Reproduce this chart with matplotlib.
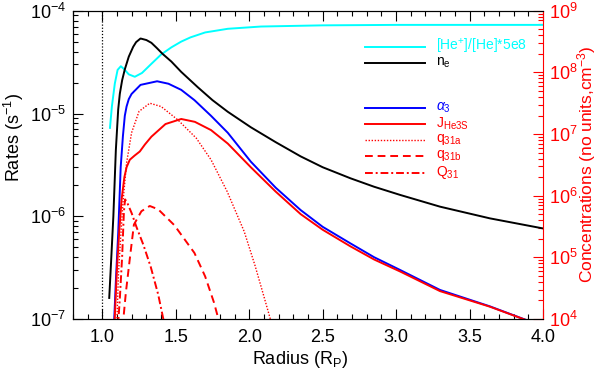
import matplotlib
matplotlib.use("Agg")
import matplotlib.pyplot as plt
from matplotlib.ticker import LogLocator, NullFormatter, MultipleLocator

plt.rcParams['font.family'] = ['Liberation Sans', 'DejaVu Sans']
plt.rcParams['mathtext.fontset'] = 'custom'
plt.rcParams['mathtext.rm'] = 'Liberation Sans'
plt.rcParams['mathtext.it'] = 'Liberation Sans:italic'
plt.rcParams['mathtext.bf'] = 'Liberation Sans:bold'

# ---------------- data ----------------
# electron density n_e (cm^-3), right axis
r_ne = [1.047, 1.060, 1.075, 1.092, 1.108, 1.119, 1.135, 1.153, 1.18, 1.21, 1.23, 1.26, 1.30,
        1.334, 1.37, 1.41, 1.47, 1.537, 1.65, 1.75, 1.854, 2.011, 2.18, 2.35, 2.5, 2.689, 2.85,
        3.028, 3.299, 3.638, 4.0]
ne = [2.2e4, 8.9e4, 4.6e5, 5.5e6, 2.5e7, 4.5e7, 7.5e7, 1.12e8, 1.8e8, 2.6e8, 3.1e8, 3.55e8,
      3.35e8, 3.02e8, 2.5e8, 2.0e8, 1.5e8, 1.02e8, 5.75e7, 3.55e7, 2.3e7, 1.29e7, 7.4e6,
      4.35e6, 2.9e6, 1.92e6, 1.4e6, 1.03e6, 6.65e5, 4.3e5, 2.95e5]

# [He+]/[He]*5e8, right axis
r_he = [1.052, 1.065, 1.085, 1.104, 1.126, 1.15, 1.18, 1.221, 1.27, 1.33, 1.40, 1.47,
        1.537, 1.60, 1.70, 1.854, 2.08, 2.5, 3.0, 4.0]
he_ratio_x5e8 = [1.26e7, 2.8e7, 6.6e7, 1.1e8, 1.26e8, 1.12e8, 9.3e7, 8.5e7, 9.8e7, 1.35e8,
                 1.95e8, 2.55e8, 3.16e8, 3.7e8, 4.45e8, 5.1e8, 5.55e8, 5.8e8, 5.9e8, 5.9e8]

# alpha_3 (s^-1), left axis
r_a3 = [1.075, 1.093, 1.108, 1.125, 1.14, 1.153, 1.165, 1.18, 1.199, 1.26, 1.373, 1.45, 1.537,
        1.627, 1.74, 1.854, 2.011, 2.18, 2.35, 2.5, 2.689, 2.85, 3.028, 3.299, 3.638, 4.0]
alpha3 = [6.3e-8, 2.5e-7, 6.8e-7, 3.0e-6, 6.0e-6, 9.5e-6, 1.17e-5, 1.38e-5, 1.55e-5, 1.9e-5,
          2.06e-5, 1.95e-5, 1.7e-5, 1.35e-5, 9.5e-6, 6.5e-6, 3.4e-6, 1.9e-6, 1.15e-6, 7.9e-7,
          5.45e-7, 4.0e-7, 3.0e-7, 1.92e-7, 1.33e-7, 8.5e-8]

# J_He3S (s^-1)
r_j = [1.078, 1.10, 1.115, 1.131, 1.15, 1.165, 1.187, 1.22, 1.255, 1.29, 1.334, 1.43, 1.537,
       1.63, 1.74, 1.854, 2.011, 2.18, 2.35, 2.5, 2.689, 2.85, 3.028, 3.299, 3.638, 4.0]
j_he3s = [6.3e-8, 3.2e-7, 7.1e-7, 1.45e-6, 2.4e-6, 3.0e-6, 3.55e-6, 3.9e-6, 4.27e-6, 5.0e-6,
          5.95e-6, 7.9e-6, 8.85e-6, 8.3e-6, 6.9e-6, 5.1e-6, 3.0e-6, 1.74e-6, 1.05e-6, 7.4e-7,
          5.1e-7, 3.8e-7, 2.9e-7, 1.87e-7, 1.32e-7, 8.5e-8]

# q_31a (s^-1)
r_qa = [1.095, 1.11, 1.125, 1.142, 1.165, 1.199, 1.25, 1.323, 1.40, 1.515, 1.64, 1.74, 1.85,
        1.966, 2.04, 2.10, 2.16]
q31a = [6.3e-8, 2.8e-7, 6.3e-7, 1.45e-6, 3.3e-6, 6.5e-6, 1.05e-5, 1.26e-5, 1.17e-5, 8.65e-6,
        5.75e-6, 3.55e-6, 1.74e-6, 7.1e-7, 3.3e-7, 1.66e-7, 8.3e-8]

# q_31b (s^-1)
r_qb = [1.13, 1.16, 1.19, 1.215, 1.266, 1.323, 1.38, 1.49, 1.627, 1.70, 1.76, 1.80]
q31b = [6.3e-8, 1.8e-7, 4.2e-7, 8.3e-7, 1.12e-6, 1.26e-6, 1.17e-6, 8.2e-7, 4.4e-7, 2.6e-7,
        1.45e-7, 8.9e-8]

# Q_31 (s^-1)
r_Q = [1.105, 1.12, 1.135, 1.147, 1.155, 1.17, 1.20, 1.232, 1.28, 1.33, 1.38, 1.42]
Q31 = [7.9e-8, 1.66e-7, 4.1e-7, 1.12e-6, 1.46e-6, 1.35e-6, 1.07e-6, 7.9e-7, 5.25e-7, 3.2e-7,
       1.74e-7, 9.3e-8]

legend_labels = [r'[He$^{+}$]/[He]*5e8', r'n$_{\rm e}$', r'$\alpha_3$', r'J$_{\rm He3S}$',
                 r'q$_{\rm 31a}$', r'q$_{\rm 31b}$', r'Q$_{\rm 31}$']

# ---------------- figure ----------------
fig = plt.figure(figsize=(5.98, 3.71), dpi=100)
ax = fig.add_axes([0.122, 0.140, 0.786, 0.831])
ax2 = ax.twinx()

lw = 1.4
ax.plot(r_a3, alpha3, color='blue', lw=lw)
ax.plot(r_j, j_he3s, color='red', lw=lw)
ax.plot(r_qa, q31a, color='red', lw=1.0, ls=(0, (1, 1.2)))
ax.plot(r_qb, q31b, color='red', lw=lw, ls=(0, (4, 2.5)))
ax.plot(r_Q, Q31, color='red', lw=lw, ls=(0, (4, 1.5, 1, 1.5)))
ax.axvline(1.0, color='black', lw=0.9, ls=(0, (1, 1.5)))

ax2.plot(r_he, he_ratio_x5e8, color='cyan', lw=lw)
ax2.plot(r_ne, ne, color='black', lw=lw)

ax.set_xlim(0.8, 4.0)
ax.set_yscale('log')
ax.set_ylim(1e-7, 1e-4)
ax2.set_yscale('log')
ax2.set_ylim(1e4, 1e9)

ax.xaxis.set_major_locator(MultipleLocator(0.5))
ax.xaxis.set_minor_locator(MultipleLocator(0.1))
ax.xaxis.set_major_formatter(plt.FuncFormatter(lambda v, p: f'{v:.1f}'))
ax.yaxis.set_minor_locator(LogLocator(base=10, subs=range(2, 10), numticks=20))
ax.yaxis.set_minor_formatter(NullFormatter())
ax2.yaxis.set_minor_locator(LogLocator(base=10, subs=range(2, 10), numticks=20))
ax2.yaxis.set_minor_formatter(NullFormatter())

fs = 13
ax.tick_params(axis='x', which='both', direction='in', top=True, bottom=True, labelsize=fs, pad=7)
ax.tick_params(axis='x', which='major', length=7, width=0.8)
ax.tick_params(axis='x', which='minor', length=3.5, width=0.8)
ax.tick_params(axis='y', which='both', direction='in', left=True, right=False, labelsize=fs, pad=5)
ax.tick_params(axis='y', which='major', length=7, width=0.8)
ax.tick_params(axis='y', which='minor', length=3.5, width=0.8)

ax2.tick_params(axis='y', which='both', direction='in', colors='red', labelsize=fs, pad=4)
ax2.tick_params(axis='y', which='major', length=7, width=0.8)
ax2.tick_params(axis='y', which='minor', length=3.5, width=0.8)
ax2.spines['right'].set_color('red')
ax.spines['right'].set_visible(False)

fig.text(300 / 598, 1 - 359 / 371, r'Radius (R$_{\rm P}$)', fontsize=fs, ha='center', va='center')
fig.text(14 / 598, 1 - 138 / 371, r'Rates (s$^{-1}$)', fontsize=fs, ha='center', va='center',
         rotation=90)
fig.text(587 / 598, 1 - 164 / 371, r'Concentrations (no units,cm$^{-3}$)', fontsize=12.5,
         color='red', ha='center', va='center', rotation=90)

# legend drawn manually in axes coordinates
leg_styles = [dict(color='cyan', lw=lw), dict(color='black', lw=lw), dict(color='blue', lw=lw),
              dict(color='red', lw=lw), dict(color='red', lw=1.0, ls=(0, (1, 1.2))),
              dict(color='red', lw=lw, ls=(0, (4, 2.5))),
              dict(color='red', lw=lw, ls=(0, (4, 1.5, 1, 1.5)))]
leg_text_colors = ['cyan', 'black', 'blue', 'red', 'red', 'red', 'red']
leg_y = [0.883, 0.831, 0.684, 0.633, 0.581, 0.529, 0.475]
for lab, st, tc, yy in zip(legend_labels, leg_styles, leg_text_colors, leg_y):
    ax.plot([0.621, 0.749], [yy, yy], transform=ax.transAxes, clip_on=False, **st)
    ax.text(0.772, yy, lab, transform=ax.transAxes, color=tc, fontsize=10,
            va='center', ha='left')

fig.savefig('out.png', dpi=100)
